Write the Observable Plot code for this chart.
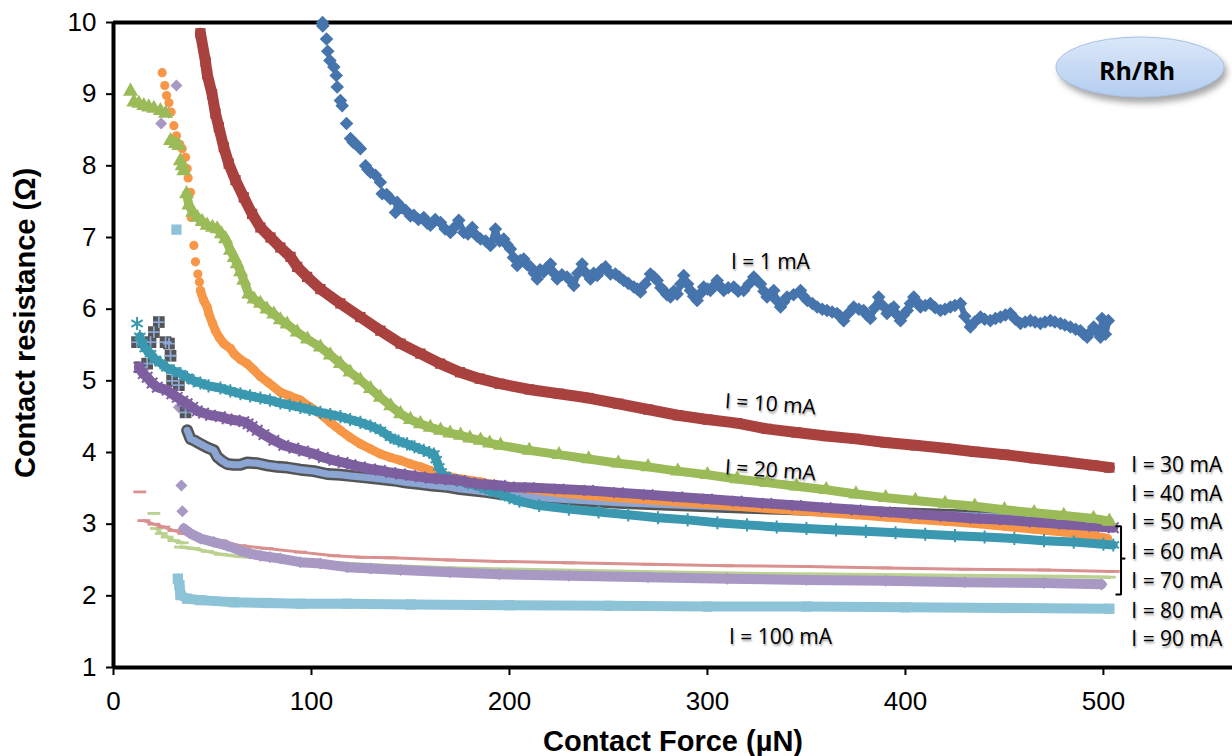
<!DOCTYPE html>
<html>
<head>
<meta charset="utf-8">
<script src="https://cdn.jsdelivr.net/npm/d3@7"></script>
<script src="https://cdn.jsdelivr.net/npm/@observablehq/plot@0.6"></script>
<style>
html, body { margin: 0; padding: 0; background: #fff; }
#chart svg { display: block; }
</style>
</head>
<body>
<div id="chart"></div>
<script>
// ---------------- DATA ----------------
const xTicks = [0, 100, 200, 300, 400, 500];
const yTicks = [1, 2, 3, 4, 5, 6, 7, 8, 9, 10];

const s1mA = [[105.6,10.0],[105.7,9.95],[107.6,9.77],[108.2,9.6],[109.3,9.47],[111.3,9.38],[112.5,9.26],[113,9.1],[114.6,8.91],[115.5,8.84],[117.7,8.59],[119.7,8.38],[121,8.33],[122.2,8.31],[124.7,8.24],[127.3,8.0],[128.5,7.95],[129.8,7.91],[132.3,7.87],[134.8,7.77],[135.7,7.61],[138,7.6],[139.9,7.54],[142.4,7.35],[143.3,7.49],[145.5,7.42],[147.5,7.38],[150,7.3],[151.7,7.31],[154,7.25],[156.7,7.28],[158.5,7.2],[160.1,7.17],[162.5,7.25],[165.2,7.21],[167.5,7.12],[170.2,7.07],[172.5,7.15],[174.4,7.24],[176.9,7.07],[179,7.05],[181.2,7.14],[183.5,7.02],[185.4,6.98],[188,6.95],[190.4,6.89],[192.9,7.12],[195,6.95],[197.1,6.98],[198.8,6.9],[200.5,6.84],[202,6.72],[203.9,6.61],[205.5,6.68],[207.2,6.7],[209,6.62],[210.6,6.59],[212.5,6.5],[214,6.42],[215.5,6.55],[217.3,6.52],[219,6.58],[220.7,6.63],[222.5,6.5],[224.1,6.42],[226.5,6.48],[229.1,6.45],[230.8,6.4],[232.5,6.33],[234.5,6.5],[236.7,6.63],[238.8,6.5],[240.9,6.42],[242.5,6.5],[244.3,6.47],[246.5,6.55],[248.5,6.59],[251,6.49],[253.5,6.49],[255.5,6.45],[257.7,6.4],[260,6.36],[262.8,6.31],[264.5,6.28],[266.2,6.24],[268.5,6.35],[271.2,6.49],[273,6.45],[274.6,6.4],[276.5,6.3],[277.9,6.26],[279.5,6.2],[281.3,6.17],[283,6.25],[284.7,6.21],[286.5,6.35],[288,6.47],[290,6.35],[291.4,6.26],[293,6.18],[294.8,6.12],[296.5,6.22],[298.1,6.31],[300,6.28],[301.5,6.26],[303,6.32],[304.9,6.4],[306.5,6.32],[308.2,6.26],[310.5,6.3],[313.3,6.31],[315.5,6.25],[318.3,6.26],[321,6.35],[323.4,6.45],[325,6.4],[326.8,6.35],[328.5,6.25],[330.1,6.17],[332,6.22],[333.5,6.26],[335,6.12],[336.9,6.03],[338.5,6.1],[340.2,6.17],[343.5,6.2],[347,6.26],[348.5,6.18],[350.4,6.12],[353,6.08],[355.4,6.03],[358,6.0],[360.4,5.98],[363,5.96],[365.5,5.94],[367,5.9],[368.8,5.84],[371.5,5.95],[373.9,6.03],[376.5,6.0],[378.9,5.98],[380.5,5.92],[382.3,5.87],[384.5,6.02],[386.5,6.17],[388.5,6.05],[390.7,5.94],[392.5,6.0],[394.1,6.03],[395.8,5.92],[397.5,5.84],[399,5.92],[400.9,5.98],[402.5,6.08],[404.2,6.17],[406,6.1],[407.6,6.03],[410,6.05],[412.6,6.08],[415,6.02],[417.7,5.98],[420,6.0],[422.7,6.03],[425,6.05],[427.8,6.08],[430,5.9],[432.8,5.75],[435,5.82],[437.9,5.89],[440,5.86],[442.9,5.84],[445.5,5.87],[448,5.89],[450.5,5.92],[453,5.94],[455.5,5.86],[458.1,5.8],[460.5,5.82],[463.1,5.84],[465.5,5.82],[468.2,5.8],[470.5,5.82],[473.2,5.84],[475.5,5.82],[478.3,5.8],[480.5,5.78],[483.3,5.75],[486,5.72],[488.4,5.7],[490,5.65],[491.8,5.61],[493.5,5.68],[495.1,5.75],[497,5.68],[498.5,5.61],[499.3,5.87],[501,5.65],[502.5,5.84]];

const s10mA = [[43.9,9.85],[46.5,9.45],[47.3,9.28],[49.8,9.0],[51.5,8.73],[53.2,8.54],[55.7,8.26],[58.2,8.03],[61.6,7.8],[65.8,7.56],[70,7.33],[74.2,7.14],[79.3,7.0],[84.3,6.86],[89.4,6.73],[92.8,6.59],[97.8,6.45],[104.5,6.28],[114.6,6.08],[124.7,5.89],[134.8,5.7],[145,5.52],[155,5.38],[165,5.24],[175,5.12],[185,5.03],[195,4.96],[210,4.88],[225,4.82],[240,4.76],[255,4.68],[270,4.6],[285,4.52],[300,4.46],[315,4.41],[330,4.33],[345,4.28],[360,4.23],[375,4.19],[390,4.14],[405,4.1],[420,4.06],[435,4.01],[450,3.97],[465,3.92],[480,3.87],[495,3.82],[503,3.79]];

const s20mA = [[8.6,9.04],[10.3,8.89],[12.8,8.87],[15.3,8.84],[17.8,8.82],[20.4,8.8],[23.7,8.77],[26.3,8.73],[28.8,8.35],[31.3,8.31],[33,8.28],[33.8,8.07],[34.7,8.0],[35.5,7.93],[36.9,7.61],[38.1,7.45],[40,7.35],[42.3,7.28],[44.8,7.22],[47.3,7.17],[50,7.14],[52.4,7.12],[54.5,7.05],[56.6,6.98],[59.1,6.82],[61,6.72],[62.5,6.63],[64.2,6.52],[65.8,6.4],[68.3,6.21],[71,6.14],[74.2,6.08],[77.5,6.0],[81,5.93],[84.3,5.85],[87.7,5.79],[92.8,5.68],[98,5.58],[104.5,5.47],[109.5,5.36],[114.6,5.24],[119.5,5.12],[124.7,5.01],[129.8,4.89],[134.8,4.77],[140,4.65],[145,4.54],[150,4.46],[155,4.4],[160,4.35],[165.2,4.31],[170,4.27],[175.3,4.24],[180,4.2],[185.4,4.17],[190,4.13],[195.5,4.1],[210,4.03],[225,3.97],[240,3.91],[255,3.85],[270,3.8],[285,3.74],[300,3.69],[315,3.63],[330,3.58],[345,3.53],[360,3.48],[375,3.42],[390,3.37],[405,3.33],[420,3.29],[435,3.25],[450,3.2],[465,3.16],[480,3.12],[495,3.08],[503,3.04]];

const s30mA = [[12.8,5.19],[15,5.1],[17,5.05],[19.5,4.97],[22.1,4.91],[27.1,4.87],[29.5,4.82],[32.2,4.77],[35,4.72],[37.2,4.68],[40,4.63],[42.3,4.58],[45.5,4.55],[49,4.52],[54,4.5],[57.4,4.47],[61.5,4.45],[65.8,4.43],[68,4.4],[70,4.36],[72.6,4.31],[76,4.25],[81,4.17],[86,4.1],[91.1,4.06],[96,4.02],[101.2,3.98],[106,3.93],[111.3,3.89],[116,3.86],[120,3.83],[124.7,3.8],[129.8,3.77],[134.8,3.75],[140,3.72],[145,3.7],[150,3.68],[155,3.66],[160,3.64],[165.2,3.63],[170,3.62],[175.3,3.61],[180,3.58],[185.4,3.56],[190,3.55],[195.5,3.54],[200,3.52],[210,3.51],[225,3.49],[240,3.47],[255,3.44],[270,3.41],[285,3.38],[300,3.35],[315,3.32],[330,3.29],[345,3.26],[360,3.23],[375,3.2],[390,3.17],[405,3.14],[420,3.11],[435,3.08],[450,3.06],[465,3.03],[480,3.0],[495,2.97],[505,2.95]];

const s40mA = [[11.9,5.8],[13.3,5.62],[14.5,5.53],[16,5.45],[18.7,5.38],[21,5.3],[23.7,5.25],[27,5.18],[30.5,5.14],[33.8,5.1],[37.2,5.05],[40.5,5.0],[43.9,4.97],[48,4.93],[54,4.9],[59,4.86],[64.1,4.82],[69,4.79],[74.2,4.76],[79,4.73],[84.3,4.69],[89,4.66],[94.4,4.63],[99,4.6],[104.5,4.56],[109.5,4.53],[114.6,4.5],[119.5,4.46],[124.7,4.42],[129.8,4.37],[134.8,4.31],[139.9,4.21],[144,4.16],[148.3,4.12],[152,4.08],[156.7,4.03],[159.5,4.0],[161.8,3.98],[163,3.9],[164.3,3.8],[165.5,3.73],[166.8,3.68],[170,3.64],[173.6,3.61],[179,3.57],[185.4,3.52],[190,3.47],[195.5,3.42],[200,3.37],[205,3.32],[215,3.26],[230,3.21],[245,3.17],[260,3.13],[275,3.09],[290,3.06],[305,3.02],[320,2.99],[335,2.96],[350,2.94],[365,2.92],[380,2.9],[395,2.88],[410,2.86],[425,2.84],[440,2.82],[455,2.8],[470,2.77],[485,2.75],[500,2.72],[505,2.71]];

const s50mA = [[24.6,9.3],[25.9,9.12],[26.8,8.98],[28,8.88],[29.1,8.75],[30.5,8.56],[31.8,8.42],[33.5,8.3],[34.7,8.24],[36.4,8.12],[37.2,7.96],[37.7,7.83],[38.9,7.63],[39.2,7.28],[40.6,6.89],[41.4,6.66],[42.6,6.49],[43.4,6.38],[43.9,6.26],[45.6,6.12],[47.3,6.03],[48.1,5.94],[50,5.8],[51.5,5.7],[53.5,5.6],[55.7,5.52],[59.1,5.45],[60.8,5.38],[64,5.3],[67.5,5.24],[71,5.15],[74.2,5.06],[78,4.98],[84.3,4.84],[89,4.79],[94.4,4.73],[99,4.64],[104.5,4.54],[109.5,4.42],[114.6,4.31],[119.5,4.21],[124.7,4.12],[129.8,4.05],[134.8,3.98],[140,3.93],[145,3.89],[150,3.84],[155,3.8],[160,3.75],[165.2,3.7],[170,3.66],[175.3,3.63],[180,3.61],[185.4,3.59],[190,3.56],[195.5,3.54],[210,3.49],[225,3.44],[240,3.4],[255,3.37],[270,3.34],[285,3.31],[300,3.28],[315,3.25],[330,3.22],[345,3.19],[360,3.16],[375,3.13],[390,3.1],[405,3.07],[420,3.04],[435,3.01],[450,2.97],[465,2.93],[480,2.89],[495,2.84],[502,2.8]];

const s60mA = [[11.9,5.54],[13.6,5.19],[17,5.24],[18.7,5.54],[20.4,5.68],[22.9,5.82],[26.3,5.54],[28,5.52],[28.8,5.35],[29.6,5.0],[33,4.94],[36.4,4.56],[37.2,4.31],[38.9,4.19],[40.6,4.17],[43.9,4.12],[47.3,4.07],[50.7,4.03],[52.4,3.94],[55,3.88],[57.4,3.84],[60.8,3.83],[64.1,3.83],[67.5,3.86],[72.6,3.85],[77.6,3.82],[82.7,3.8],[87.7,3.79],[94.4,3.76],[101.2,3.74],[107.9,3.7],[114.6,3.69],[121,3.67],[128.1,3.65],[135,3.63],[141.6,3.61],[148,3.58],[155,3.56],[161,3.54],[168.5,3.52],[175,3.49],[182,3.47],[188,3.45],[195.5,3.42],[210,3.38],[230,3.34],[255,3.3],[280,3.27],[300,3.25],[320,3.23],[340,3.21],[360,3.19],[380,3.17],[400,3.15],[420,3.13],[440,3.11],[460,3.08],[480,3.06],[500,3.03]];

const s70mA = [[24.1,8.59],[28,8.74],[31.8,9.12],[33,4.63],[34.3,3.54],[34.8,3.18],[35.5,2.94],[38.9,2.87],[43.9,2.8],[50.7,2.75],[57.4,2.7],[64.1,2.63],[69,2.59],[74.2,2.56],[79,2.54],[84.3,2.52],[94.4,2.47],[104.5,2.45],[118,2.4],[130,2.38],[145,2.36],[170,2.33],[195,2.3],[230,2.28],[270,2.26],[310,2.24],[350,2.22],[390,2.21],[430,2.19],[470,2.18],[499,2.16]];

const s80mA = [[13.3,3.45],[15.3,3.05],[20.4,3.0],[25.4,2.96],[30.5,2.91],[35.5,2.87],[43.9,2.82],[54,2.77],[64.1,2.7],[77.6,2.66],[94.4,2.61],[111.3,2.56],[125,2.54],[140,2.53],[170,2.5],[195,2.48],[230,2.46],[270,2.44],[310,2.42],[350,2.41],[390,2.39],[430,2.37],[470,2.36],[505,2.34]];

const s90mA = [[20.4,3.15],[21.7,2.94],[24.1,2.87],[27.1,2.82],[30.5,2.77],[34.7,2.74],null,[33.8,2.68],[40.6,2.66],[47.3,2.62],[54,2.58],[64.1,2.55],[74.2,2.53],[90,2.5],[110,2.46],[140,2.42],[170,2.39],[200,2.37],[240,2.35],[280,2.33],[320,2.31],[360,2.3],[400,2.29],[440,2.28],[480,2.27],[503,2.26]];

const s100mA = [[31.8,7.11],[32.5,2.24],[33.3,2.15],[33.8,2.01],[37.2,1.96],[43.9,1.94],[60.8,1.91],[77.6,1.9],[94.4,1.89],[118,1.89],[150,1.88],[200,1.87],[250,1.86],[300,1.85],[350,1.85],[400,1.84],[450,1.83],[503,1.82]];

const seriesLabels = ["I = 1 mA","I = 10 mA","I = 20 mA","I = 30 mA","I = 40 mA","I = 50 mA","I = 60 mA","I = 70 mA","I = 80 mA","I = 90 mA","I = 100 mA"];

// annotation anchors (data units)
const curveLabels = [
  {text: "I = 1 mA",   x: 331.8, y: 6.65, rotate: 0},
  {text: "I = 10 mA",  x: 331.8, y: 4.67, rotate: 4},
  {text: "I = 20 mA",  x: 331.8, y: 3.75, rotate: 4},
  {text: "I = 100 mA", x: 336.9, y: 1.42, rotate: 0}
];
const sideLabels = [
  {text: "I = 30 mA", x: 514.1, y: 3.82},
  {text: "I = 40 mA", x: 514.1, y: 3.42},
  {text: "I = 50 mA", x: 514.1, y: 3.03},
  {text: "I = 60 mA", x: 514.1, y: 2.61},
  {text: "I = 70 mA", x: 514.1, y: 2.21},
  {text: "I = 80 mA", x: 514.1, y: 1.79},
  {text: "I = 90 mA", x: 514.1, y: 1.39}
];
const bracketPts = [
  {x: 506.1, y: 2.97, p: "a"}, {x: 508.9, y: 2.97, p: "a"}, {x: 508.9, y: 2.02, p: "a"}, {x: 506.1, y: 2.02, p: "a"},
  {x: 508.9, y: 2.52, p: "b"}, {x: 511.1, y: 2.52, p: "b"}
];

// ---------------- STYLE ----------------
const dash = {draw(ctx, size) { const w = Math.sqrt(size) * 0.9; ctx.moveTo(-w, -1.4); ctx.lineTo(w, -1.4); ctx.lineTo(w, 1.4); ctx.lineTo(-w, 1.4); ctx.closePath(); }};
const rhombus = {draw(ctx, size) { const h = Math.sqrt(size / 2); ctx.moveTo(0, -h); ctx.lineTo(h, 0); ctx.lineTo(0, h); ctx.lineTo(-h, 0); ctx.closePath(); }};

const series = [
  {data: s1mA,   color: "#4674AC", symbol: rhombus,    r: 5.4, lw: 6,   lineFrom: 140},
  {data: s10mA,  color: "#A9423F", symbol: "square",   r: 5.8, lw: 11,  lineFrom: 0},
  {data: s20mA,  color: "#9BBB59", symbol: "triangle", r: 5.6, lw: 9,   lineFrom: 36},
  {data: s30mA,  color: "#7D5FA0", symbol: "times",    r: 4.8, lw: 10,  lineFrom: 0, stroked: true},
  {data: s40mA,  color: "#3A98B0", symbol: "asterisk", r: 6.2, lw: 9,   lineFrom: 13, stroked: true},
  {data: s50mA,  color: "#F79646", symbol: "circle",   r: 4.6, lw: 9,   lineFrom: 43.8},
  {data: s60mA,  color: "#555555", inner: "#8CA6D4", symbol: "square", r: 6.6, lw: 12, lineFrom: 37},
  {data: s70mA,  color: "#A898C4", symbol: rhombus,    r: 4.8, lw: 10,  lineFrom: 35.4},
  {data: s80mA,  color: "#D9908E", symbol: dash,       r: 4,   lw: 3,   lineFrom: 15},
  {data: s90mA,  color: "#BBD190", symbol: dash,       r: 4,   lw: 3.5, lineFrom: 21},
  {data: s100mA, color: "#8DC3D6", symbol: "square",   r: 5.8, lw: 10,  lineFrom: 32.2}
];

const rows = arr => arr.map(p => p ? {x: p[0], y: p[1]} : {x: NaN, y: NaN});

const seriesMarks = [];
// draw from the last series to the first, so lower-current curves sit on top
for (let i = series.length - 1; i >= 0; i--) {
  const s = series[i];
  const all = rows(s.data);
  const lineRows = all.filter(d => isNaN(d.x) || d.x >= s.lineFrom);
  const dotRows = s.inner ? all.filter(d => d.x < s.lineFrom) : all.filter(d => !isNaN(d.x));
  seriesMarks.push(Plot.line(lineRows, {x: "x", y: "y", stroke: s.color, strokeWidth: s.lw, strokeLinejoin: "round", strokeLinecap: "round"}));
  if (s.inner) {
    seriesMarks.push(Plot.line(lineRows, {x: "x", y: "y", stroke: s.inner, strokeWidth: s.lw - 5, strokeLinejoin: "round", strokeLinecap: "round"}));
    seriesMarks.push(Plot.dot(dotRows, {x: "x", y: "y", symbol: "square", r: s.r, fill: s.color}));
    seriesMarks.push(Plot.dot(dotRows, {x: "x", y: "y", symbol: "plus", r: 3.9, stroke: s.inner, strokeWidth: 1.8}));
  } else if (s.stroked) {
    seriesMarks.push(Plot.dot(dotRows, {x: "x", y: "y", symbol: s.symbol, r: s.r, stroke: s.color, strokeWidth: 2}));
  } else {
    seriesMarks.push(Plot.dot(dotRows, {x: "x", y: "y", symbol: s.symbol, r: s.r, fill: s.color, stroke: "none"}));
  }
}

const annoFont = "'Open Sans', 'DejaVu Sans', sans-serif";

const chart = Plot.plot({
  width: 1232,
  height: 756,
  marginLeft: 113,
  marginRight: 0,
  marginTop: 22,
  marginBottom: 89,
  x: {domain: [0, 565.2]},
  y: {domain: [1, 10]},
  style: {fontFamily: "'Liberation Sans', Arial, sans-serif", color: "#000", background: "#fff", overflow: "visible"},
  marks: [
    Plot.axisX({ticks: xTicks, tickSize: 8, tickPadding: 16, strokeWidth: 2, fontSize: 26, label: null}),
    Plot.axisY({ticks: yTicks, tickSize: 7, tickPadding: 10, strokeWidth: 2, fontSize: 26, label: null}),
    Plot.ruleY([10], {stroke: "#000", strokeWidth: 4}),
    ...seriesMarks,
    Plot.ruleX([0], {stroke: "#000", strokeWidth: 4}),
    Plot.ruleY([1], {stroke: "#000", strokeWidth: 4}),
    Plot.line(bracketPts, {x: "x", y: "y", z: "p", stroke: "#000", strokeWidth: 2, strokeLinejoin: "miter", strokeLinecap: "butt"}),
    Plot.text(curveLabels, {x: "x", y: "y", text: "text", rotate: "rotate", fontSize: 21, fontFamily: annoFont, fill: "#000"}),
    Plot.text(sideLabels, {x: "x", y: "y", text: "text", textAnchor: "start", fontSize: 21, fontFamily: annoFont, fill: "#000"}),
    Plot.text(["Contact Force (µN)"], {text: d => d, frameAnchor: "bottom", dy: 74, lineAnchor: "middle", textAnchor: "middle", fontSize: 29, fontWeight: "bold"}),
    Plot.text(["Contact resistance (Ω)"], {text: d => d, frameAnchor: "left", dx: -88, dy: -22, rotate: -90, lineAnchor: "middle", textAnchor: "middle", fontSize: 29, fontWeight: "bold"})
  ]
});

document.getElementById("chart").appendChild(chart);

// soft shadow on the curve labels, as in the reference
d3.select(chart).selectAll("text").filter(function() { return /^I = /.test(this.textContent); })
  .style("text-shadow", "1px 2px 2px rgba(0,0,0,0.35)");

// "Rh/Rh" badge in the top-right corner
const svg = d3.select(chart);
const defs = svg.append("defs");
const grad = defs.append("linearGradient").attr("id", "rhGrad").attr("x1", 0).attr("y1", 0).attr("x2", 0).attr("y2", 1);
grad.append("stop").attr("offset", "0%").attr("stop-color", "#dce8f9");
grad.append("stop").attr("offset", "100%").attr("stop-color", "#b3cdf0");
defs.append("filter").attr("id", "rhBlur").attr("x", "-20%").attr("y", "-20%").attr("width", "140%").attr("height", "140%")
  .append("feGaussianBlur").attr("stdDeviation", 3);
const badge = svg.append("g");
badge.append("ellipse").attr("cx", 1143).attr("cy", 72).attr("rx", 84).attr("ry", 31).attr("fill", "#6d6d6d").attr("opacity", 0.6).attr("filter", "url(#rhBlur)");
badge.append("ellipse").attr("cx", 1140).attr("cy", 67).attr("rx", 84).attr("ry", 30).attr("fill", "url(#rhGrad)").attr("stroke", "#a9c2e6").attr("stroke-width", 1);
badge.append("text").attr("x", 1137).attr("y", 70).attr("text-anchor", "middle").attr("dominant-baseline", "central")
  .attr("font-family", annoFont).attr("font-weight", "bold").attr("font-size", 25).attr("fill", "#000").text("Rh/Rh");
</script>
</body>
</html>
